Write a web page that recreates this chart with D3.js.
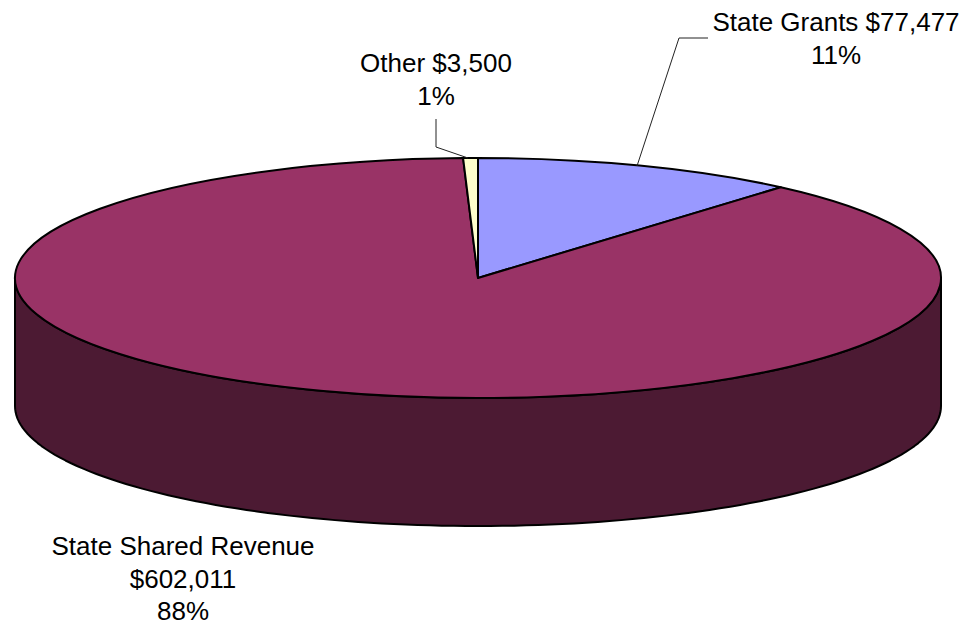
<!DOCTYPE html>
<html>
<head>
<meta charset="utf-8">
<script src="https://cdn.jsdelivr.net/npm/d3@7"></script>
<style>
  body { margin: 0; background: #fff; }
  text { font-family: "Liberation Sans", Arial, sans-serif; font-size: 26px; fill: #000; }
</style>
</head>
<body>
<svg id="chart" width="970" height="631"></svg>
<script>
// data
var categories = ["State Grants", "State Shared Revenue", "Other"];
var values = [77477, 602011, 3500];
var valueLabels = ["$77,477", "$602,011", "$3,500"];
var topColors = ["#9999FF", "#993366", "#FFFFCC"];
var sideColors = ["#4D4D80", "#4C1A33", "#808066"];

var svg = d3.select("#chart");
var cx = 478, cy = 278, rx = 463, ry = 120, depth = 128;

var total = d3.sum(values);
var pct = d3.format(".0%");

var pie = d3.pie().sort(null).value(function(d) { return d.value; });
var slices = pie(categories.map(function(c, i) {
  return { name: c, value: values[i], label: valueLabels[i], i: i };
}));

function pt(a, dy) {
  return [cx + rx * Math.sin(a), cy - ry * Math.cos(a) + (dy || 0)];
}

// side walls (only the front half is visible)
var line = d3.line();
slices.forEach(function(s) {
  var a0 = Math.max(s.startAngle, Math.PI / 2);
  var a1 = Math.min(s.endAngle, 3 * Math.PI / 2);
  if (a1 <= a0) return;
  var n = 120, top = [], bot = [];
  for (var k = 0; k <= n; k++) {
    var a = a0 + (a1 - a0) * k / n;
    top.push(pt(a, 0));
    bot.push(pt(a, depth));
  }
  svg.append("path")
    .attr("d", line(top.concat(bot.reverse())) + "Z")
    .attr("fill", sideColors[s.data.i])
    .attr("stroke", "#000")
    .attr("stroke-width", 2)
    .attr("stroke-linejoin", "round");
});

// top face
var arc = d3.arc().innerRadius(0).outerRadius(rx);
svg.append("g")
  .attr("transform", "translate(" + cx + "," + cy + ") scale(1," + (ry / rx) + ")")
  .selectAll("path")
  .data(slices)
  .enter().append("path")
  .attr("d", arc)
  .attr("fill", function(d) { return topColors[d.data.i]; })
  .attr("stroke", "#000")
  .attr("stroke-width", 2)
  .attr("vector-effect", "non-scaling-stroke")
  .attr("stroke-linejoin", "round");

// labels
var labelPos = [
  { x: 836, y: 31, lines: 2, leader: [[708, 38], [679, 38], [637, 166]] },
  { x: 183, y: 555, lines: 3, leader: null },
  { x: 436, y: 72, lines: 2, leader: [[436, 119], [436, 147], [468, 158]] }
];

slices.forEach(function(s) {
  var p = labelPos[s.data.i];
  var lines = p.lines === 3
    ? [s.data.name, s.data.label, pct(s.data.value / total)]
    : [s.data.name + " " + s.data.label, pct(s.data.value / total)];
  var t = svg.append("text")
    .attr("x", p.x)
    .attr("y", p.y)
    .attr("text-anchor", "middle");
  lines.forEach(function(l, j) {
    t.append("tspan").attr("x", p.x).attr("dy", j === 0 ? 0 : 32.5).text(l);
  });
  if (p.leader) {
    svg.append("path")
      .attr("d", line(p.leader))
      .attr("fill", "none")
      .attr("stroke", "#222")
      .attr("stroke-width", 1);
  }
});
</script>
</body>
</html>
